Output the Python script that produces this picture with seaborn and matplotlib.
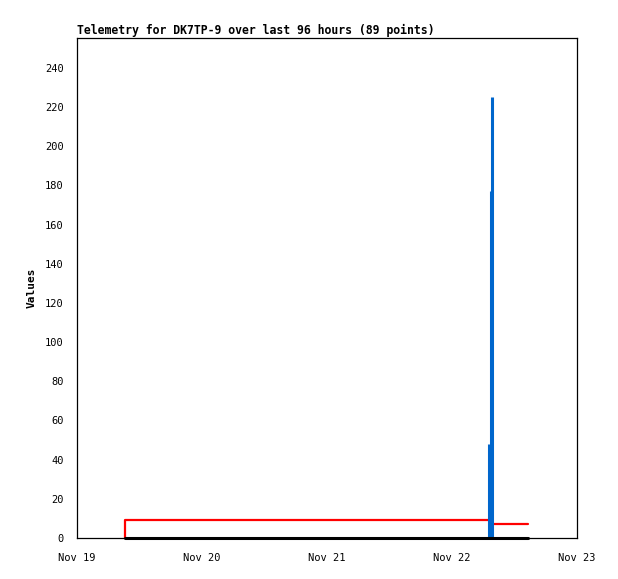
import pandas as pd
import numpy as np
import matplotlib
matplotlib.use("Agg")
import matplotlib.pyplot as plt
import matplotlib.dates as mdates
import seaborn as sns

# ---- data ----
red_times = ["2023-11-19 09:13", "2023-11-19 09:13", "2023-11-22 07:15", "2023-11-22 14:30"]
red_values = [0, 9, 7, 7]
black_times = ["2023-11-19 09:13", "2023-11-22 14:30"]
black_values = [0, 0]
blue_times = ["2023-11-22 07:05", "2023-11-22 07:29", "2023-11-22 07:41"]
blue_values = [48, 177, 225]
x_start, x_end = "2023-11-19", "2023-11-23"
y_ticks = list(range(0, 241, 20))
title = "Telemetry for DK7TP-9 over last 96 hours (89 points)"
y_label = "Values"

sns.set_style("white")
plt.rcParams["font.family"] = ["DejaVu Sans Mono"]
plt.rcParams["text.color"] = "black"
plt.rcParams["axes.labelcolor"] = "black"

fig = plt.figure(figsize=(6.18, 5.79), dpi=100)
ax = fig.add_axes([77/618, 1-538/579, 500/618, 500/579])

red = pd.DataFrame({"t": pd.to_datetime(red_times), "v": red_values})
black = pd.DataFrame({"t": pd.to_datetime(black_times), "v": black_values})
blue = pd.DataFrame({"t": pd.to_datetime(blue_times), "v": blue_values})

sns.lineplot(data=red, x="t", y="v", ax=ax, color="#ff0000", lw=1.6,
             drawstyle="steps-post", estimator=None, sort=False)
sns.lineplot(data=black, x="t", y="v", ax=ax, color="black", lw=2.2,
             estimator=None, sort=False, clip_on=False, zorder=5)
ax.vlines(blue["t"], 0, blue["v"], colors="#0066cc", lw=2.2, zorder=4)

ax.set_xlim(pd.Timestamp(x_start), pd.Timestamp(x_end))
ax.set_ylim(0, 255.3)
ax.set_yticks(y_ticks)
ax.xaxis.set_major_locator(mdates.DayLocator())
ax.xaxis.set_major_formatter(mdates.DateFormatter("%b %d"))

for s in ax.spines.values():
    s.set_color("black")
    s.set_linewidth(0.9)
ax.tick_params(axis="both", direction="out", colors="black", labelsize=7.5,
               width=0.9)
ax.tick_params(axis="x", length=5, pad=6)
ax.tick_params(axis="y", length=4.5, pad=5)
ax.grid(False)

ax.set_xlabel("")
ax.set_ylabel(y_label, fontsize=8, fontweight="bold", labelpad=6, color="black")
ax.set_title(title, loc="left", fontsize=8.3, fontweight="bold", pad=3,
             color="black")

fig.savefig("out.png", dpi=100, facecolor="white")
